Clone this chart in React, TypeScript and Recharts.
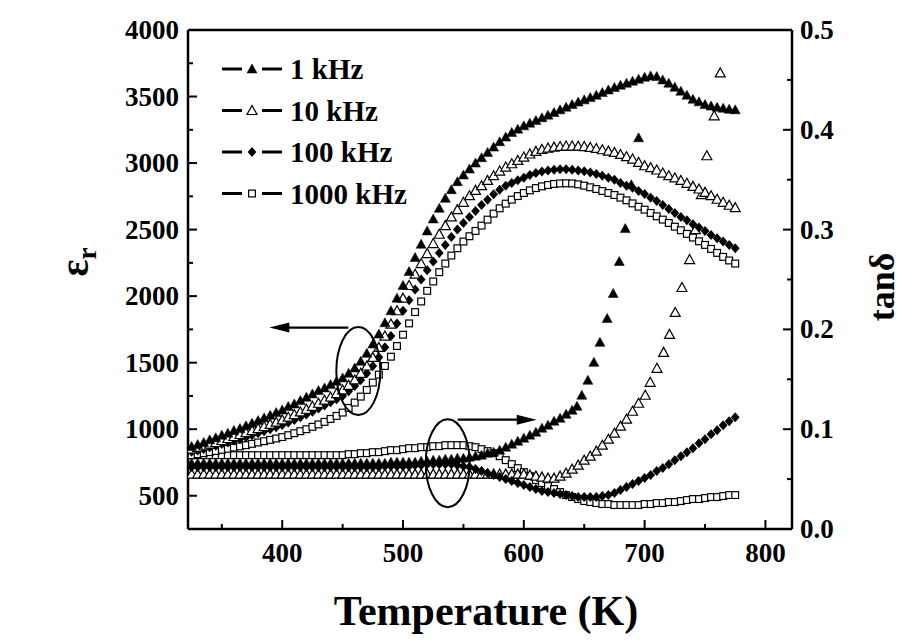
import React from "react";
import {
  ScatterChart,
  Scatter,
  XAxis,
  YAxis,
  ReferenceLine,
  ReferenceDot,
} from "recharts";

// temperature grid (K) for the densely sampled curves
const TEMPS = [
  325, 330, 335, 340, 345, 350, 355, 360, 365, 370,
  375, 380, 385, 390, 395, 400, 405, 410, 415, 420,
  425, 430, 435, 440, 445, 450, 455, 460, 465, 470,
  475, 480, 485, 490, 495, 500, 505, 510, 515, 520,
  525, 530, 535, 540, 545, 550, 555, 560, 565, 570,
  575, 580, 585, 590, 595, 600, 605, 610, 615, 620,
  625, 630, 635, 640, 645, 650, 655, 660, 665, 670,
  675, 680, 685, 690, 695, 700, 705, 710, 715, 720,
  725, 730, 735, 740, 745, 750, 755, 760, 765, 770,
  775,
];

// dielectric constant εr
const EPS_1K = [
  870, 885, 900, 920, 935, 955, 970, 990, 1005, 1025,
  1045, 1065, 1085, 1105, 1125, 1145, 1170, 1190, 1215, 1240,
  1265, 1290, 1310, 1335, 1360, 1385, 1420, 1460, 1510, 1570,
  1640, 1715, 1800, 1890, 1985, 2080, 2185, 2290, 2390, 2490,
  2580, 2660, 2735, 2800, 2860, 2910, 2955, 3000, 3040, 3080,
  3120, 3160, 3195, 3230, 3255, 3280, 3300, 3320, 3340, 3360,
  3380, 3400, 3420, 3440, 3458, 3475, 3492, 3510, 3530, 3550,
  3568, 3585, 3600, 3615, 3630, 3645, 3655, 3650, 3625, 3600,
  3570, 3540, 3510, 3480, 3460, 3440, 3428, 3420, 3412, 3405,
  3400,
];
const EPS_10K = [
  850, 862, 875, 888, 900, 915, 930, 945, 960, 975,
  990, 1005, 1020, 1037, 1053, 1070, 1090, 1110, 1130, 1150,
  1172, 1195, 1218, 1242, 1268, 1295, 1330, 1370, 1420, 1475,
  1540, 1615, 1700, 1790, 1890, 1985, 2080, 2165, 2245, 2320,
  2395, 2465, 2530, 2595, 2650, 2705, 2755, 2795, 2830, 2870,
  2905, 2940, 2970, 2995, 3020, 3045, 3068, 3088, 3103, 3113,
  3120, 3125, 3128, 3128, 3127, 3124, 3118, 3110, 3100, 3090,
  3080, 3065, 3048, 3030, 3005, 2980, 2965, 2948, 2925, 2905,
  2888, 2870, 2848, 2825, 2805, 2780, 2755, 2728, 2705, 2683,
  2665,
];
const EPS_100K = [
  830, 840, 852, 864, 876, 888, 900, 913, 926, 940,
  955, 970, 985, 1000, 1015, 1031, 1050, 1070, 1090, 1110,
  1132, 1155, 1178, 1202, 1225, 1250, 1285, 1325, 1370, 1420,
  1475, 1540, 1615, 1700, 1795, 1890, 1970, 2050, 2125, 2195,
  2260, 2325, 2385, 2445, 2500, 2550, 2595, 2640, 2685, 2725,
  2765, 2800, 2830, 2850, 2870, 2890, 2910, 2925, 2937, 2945,
  2950, 2953, 2953, 2950, 2945, 2938, 2930, 2918, 2905, 2890,
  2875, 2850, 2830, 2815, 2790, 2768, 2740, 2715, 2685, 2655,
  2625, 2595, 2570, 2540, 2515, 2490, 2460, 2435, 2410, 2385,
  2360,
];
const EPS_1000K = [
  805, 812, 820, 828, 836, 845, 853, 862, 871, 880,
  890, 900, 910, 920, 930, 941, 955, 970, 985, 1000,
  1018, 1036, 1055, 1077, 1100, 1125, 1160, 1200, 1245, 1295,
  1350, 1410, 1475, 1545, 1625, 1710, 1795, 1880, 1960, 2040,
  2110, 2180, 2245, 2305, 2360, 2410, 2450, 2490, 2530, 2575,
  2620, 2660, 2695, 2725, 2752, 2775, 2795, 2812, 2825, 2835,
  2843, 2847, 2848, 2847, 2840, 2830, 2818, 2805, 2790, 2775,
  2760, 2740, 2720, 2697, 2672, 2650, 2625, 2600, 2575, 2550,
  2522, 2495, 2468, 2440, 2412, 2385, 2355, 2325, 2295, 2268,
  2245,
];

// loss tangent tanδ
const TAN_100K = [
  0.062, 0.062, 0.062, 0.062, 0.062, 0.062, 0.062, 0.062, 0.062, 0.062,
  0.062, 0.062, 0.062, 0.062, 0.062, 0.062, 0.062, 0.062, 0.062, 0.062,
  0.062, 0.062, 0.062, 0.062, 0.062, 0.062, 0.062, 0.062, 0.062, 0.062,
  0.062, 0.062, 0.063, 0.063, 0.063, 0.063, 0.063, 0.064, 0.064, 0.065,
  0.065, 0.065, 0.065, 0.065, 0.064, 0.063, 0.062, 0.060, 0.058, 0.056,
  0.054, 0.052, 0.050, 0.048, 0.046, 0.044, 0.042, 0.040, 0.038, 0.037,
  0.036, 0.035, 0.034, 0.033, 0.032, 0.032, 0.032, 0.032, 0.033, 0.034,
  0.036, 0.039, 0.042, 0.045, 0.048, 0.051, 0.054, 0.058, 0.061, 0.065,
  0.069, 0.073, 0.077, 0.081, 0.086, 0.090, 0.095, 0.099, 0.104, 0.108,
  0.112,
];
const TAN_1000K = [
  0.074, 0.074, 0.074, 0.074, 0.074, 0.074, 0.074, 0.074, 0.074, 0.074,
  0.074, 0.074, 0.074, 0.074, 0.074, 0.074, 0.074, 0.074, 0.074, 0.074,
  0.074, 0.074, 0.074, 0.074, 0.074, 0.074, 0.075, 0.075, 0.076, 0.076,
  0.077, 0.077, 0.078, 0.079, 0.079, 0.080, 0.081, 0.081, 0.082, 0.082,
  0.083, 0.083, 0.084, 0.084, 0.084, 0.084, 0.083, 0.082, 0.080, 0.078,
  0.076, 0.073, 0.069, 0.065, 0.061, 0.057, 0.053, 0.049, 0.046, 0.043,
  0.040, 0.037, 0.034, 0.032, 0.030, 0.028, 0.027, 0.026, 0.025, 0.025,
  0.024, 0.024, 0.024, 0.024, 0.024, 0.025, 0.025, 0.026, 0.026, 0.027,
  0.027, 0.028, 0.029, 0.030, 0.030, 0.031, 0.032, 0.032, 0.033, 0.034,
  0.034,
];

// 1 kHz and 10 kHz loss run off the top, so they have their own temperatures
const TAN_1K_T = [
  325, 330, 335, 340, 345, 350, 355, 360, 365, 370,
  375, 380, 385, 390, 395, 400, 405, 410, 415, 420,
  425, 430, 435, 440, 445, 450, 455, 460, 465, 470,
  475, 480, 485, 490, 495, 500, 505, 510, 515, 520,
  525, 530, 535, 540, 545, 550, 555, 560, 565, 570,
  575, 580, 585, 590, 595, 600, 605, 610, 615, 620,
  625, 630, 635, 640, 644, 648, 653, 658, 663, 669,
  674, 679, 684, 689, 695,
];
const TAN_1K = [
  0.066, 0.066, 0.066, 0.066, 0.066, 0.066, 0.066, 0.066, 0.066, 0.066,
  0.066, 0.066, 0.066, 0.066, 0.066, 0.066, 0.066, 0.066, 0.066, 0.066,
  0.066, 0.066, 0.066, 0.066, 0.066, 0.066, 0.066, 0.066, 0.066, 0.066,
  0.066, 0.066, 0.066, 0.067, 0.067, 0.067, 0.067, 0.067, 0.068, 0.068,
  0.069, 0.069, 0.070, 0.070, 0.071, 0.071, 0.072, 0.073, 0.074, 0.076,
  0.077, 0.079, 0.082, 0.085, 0.088, 0.091, 0.094, 0.097, 0.101, 0.104,
  0.108, 0.111, 0.115, 0.119, 0.123, 0.134, 0.149, 0.167, 0.187, 0.211,
  0.236, 0.268, 0.301, 0.345, 0.392,
];
const TAN_10K_T = [
  325, 330, 335, 340, 345, 350, 355, 360, 365, 370,
  375, 380, 385, 390, 395, 400, 405, 410, 415, 420,
  425, 430, 435, 440, 445, 450, 455, 460, 465, 470,
  475, 480, 485, 490, 495, 500, 505, 510, 515, 520,
  525, 530, 535, 540, 545, 550, 555, 560, 565, 570,
  575, 580, 585, 590, 595, 600, 605, 610, 615, 620,
  625, 630, 635, 640, 645, 650, 655, 660, 665, 670,
  675, 680, 685, 690, 695, 700.5, 704.6, 710.2, 715.7, 720.6,
  725.3, 730.9, 737.2, 742, 747, 751.5, 757.6, 762.6,
];
const TAN_10K = [
  0.055, 0.055, 0.055, 0.055, 0.055, 0.055, 0.055, 0.055, 0.055, 0.055,
  0.055, 0.055, 0.055, 0.055, 0.055, 0.055, 0.055, 0.055, 0.055, 0.055,
  0.055, 0.055, 0.055, 0.055, 0.055, 0.055, 0.055, 0.055, 0.055, 0.055,
  0.055, 0.055, 0.055, 0.055, 0.055, 0.055, 0.055, 0.055, 0.055, 0.055,
  0.055, 0.055, 0.055, 0.055, 0.055, 0.055, 0.055, 0.055, 0.055, 0.055,
  0.055, 0.055, 0.055, 0.055, 0.055, 0.055, 0.054, 0.053, 0.052, 0.051,
  0.051, 0.053, 0.056, 0.060, 0.064, 0.069, 0.073, 0.078, 0.084, 0.090,
  0.096, 0.103, 0.110, 0.118, 0.126, 0.134, 0.147, 0.161, 0.177, 0.195,
  0.217, 0.242, 0.270, 0.300, 0.335, 0.374, 0.414, 0.457,
];

const X_TICKS = [350, 400, 450, 500, 550, 600, 650, 700, 750, 800];
const EPS_TICKS = [500, 750, 1000, 1250, 1500, 1750, 2000, 2250, 2500, 2750, 3000, 3250, 3500, 3750, 4000];
const TAN_TICKS = [0, 0.05, 0.1, 0.15, 0.2, 0.25, 0.3, 0.35, 0.4, 0.45, 0.5];
const TAN_LABELS: Record<string, string> = { "0": "0.0", "0.1": "0.1", "0.2": "0.2", "0.3": "0.3", "0.4": "0.4", "0.5": "0.5" };

const LEGEND = [
  { kind: "triFill", label: "1 kHz" },
  { kind: "triOpen", label: "10 kHz" },
  { kind: "diamond", label: "100 kHz" },
  { kind: "square", label: "1000 kHz" },
];

const FONT = '"Liberation Serif", "Times New Roman", serif';

const zip = (xs: number[], ys: number[]) => xs.map((x, i) => ({ x, y: ys[i] }));

function Marker({ kind, cx, cy }: { kind: string; cx: number; cy: number }) {
  if (cx == null || cy == null) return null;
  if (kind === "triFill" || kind === "triOpen") {
    const open = kind === "triOpen";
    return (
      <polygon
        points={`${cx},${cy - 5} ${cx - 5},${cy + 4} ${cx + 5},${cy + 4}`}
        fill={open ? "#fff" : "#000"}
        stroke="#000"
        strokeWidth={open ? 1.2 : 0.5}
      />
    );
  }
  if (kind === "diamond") {
    return (
      <polygon
        points={`${cx},${cy - 5} ${cx + 4.4},${cy} ${cx},${cy + 5} ${cx - 4.4},${cy}`}
        fill="#000"
      />
    );
  }
  return <rect x={cx - 3.4} y={cy - 3.4} width={6.8} height={6.8} fill="#fff" stroke="#000" strokeWidth={1.2} />;
}

const shapeOf = (kind: string) => (p: any) => <Marker kind={kind} cx={p.cx} cy={p.cy} />;

const labelStyle = { fontFamily: FONT, fontWeight: 700, fontSize: 27, fill: "#000" } as const;

const XTick = (p: any) => {
  const v = p.payload.value;
  const major = v % 100 === 0;
  return (
    <g>
      <line x1={p.x} x2={p.x} y1={p.y} y2={p.y - (major ? 9 : 5)} stroke="#000" strokeWidth={2} />
      {major && (
        <text x={p.x} y={p.y + 33} textAnchor="middle" {...labelStyle}>
          {v}
        </text>
      )}
    </g>
  );
};

const EpsTick = (p: any) => {
  const v = p.payload.value;
  const major = v % 500 === 0;
  return (
    <g>
      <line x1={p.x} x2={p.x + (major ? 9 : 5)} y1={p.y} y2={p.y} stroke="#000" strokeWidth={2} />
      {major && (
        <text x={p.x - 9} y={p.y + 9} textAnchor="end" {...labelStyle}>
          {v}
        </text>
      )}
    </g>
  );
};

const TanTick = (p: any) => {
  const v = p.payload.value;
  const lab = TAN_LABELS[String(v)];
  return (
    <g>
      <line x1={p.x} x2={p.x - (lab ? 9 : 5)} y1={p.y} y2={p.y} stroke="#000" strokeWidth={2} />
      {lab && (
        <text x={p.x + 8} y={p.y + 9} textAnchor="start" {...labelStyle}>
          {lab}
        </text>
      )}
    </g>
  );
};

// ellipse with an arrow pointing to the axis it belongs to
const Callout = (dir: number) => (p: any) => {
  const { cx, cy } = p;
  if (cx == null) return null;
  const tipX = cx + dir * 89;
  const startX = cx + dir * 10;
  const ay = cy - 43.5;
  return (
    <g>
      <ellipse cx={cx} cy={cy} rx={22} ry={44} fill="none" stroke="#000" strokeWidth={2} />
      <line x1={startX} x2={tipX - dir * 16} y1={ay} y2={ay} stroke="#000" strokeWidth={2.2} />
      <polygon points={`${tipX},${ay} ${tipX - dir * 20},${ay - 5} ${tipX - dir * 20},${ay + 5}`} fill="#000" />
    </g>
  );
};

export default function App() {
  const series = [
    { key: "t1000", data: zip(TEMPS, TAN_1000K), axis: "tan", kind: "square" },
    { key: "t10", data: zip(TAN_10K_T, TAN_10K), axis: "tan", kind: "triOpen" },
    { key: "t100", data: zip(TEMPS, TAN_100K), axis: "tan", kind: "diamond" },
    { key: "t1", data: zip(TAN_1K_T, TAN_1K), axis: "tan", kind: "triFill" },
    { key: "e1000", data: zip(TEMPS, EPS_1000K), axis: "eps", kind: "square" },
    { key: "e100", data: zip(TEMPS, EPS_100K), axis: "eps", kind: "diamond" },
    { key: "e10", data: zip(TEMPS, EPS_10K), axis: "eps", kind: "triOpen" },
    { key: "e1", data: zip(TEMPS, EPS_1K), axis: "eps", kind: "triFill" },
  ];

  return (
    <div style={{ position: "absolute", left: 0, top: 0, width: 912, height: 642, background: "#fff" }}>
      <ScatterChart width={912} height={642} margin={{ top: 30, right: 0, bottom: 0, left: 0 }}>
        <XAxis
          type="number"
          dataKey="x"
          domain={[322, 822]}
          ticks={X_TICKS}
          interval={0}
          tick={XTick}
          tickSize={0}
          tickMargin={0}
          tickLine={false}
          axisLine={{ stroke: "#000", strokeWidth: 2.5 }}
          height={113}
          allowDataOverflow
        />
        <YAxis
          yAxisId="eps"
          type="number"
          dataKey="y"
          domain={[250, 4000]}
          ticks={EPS_TICKS}
          interval={0}
          tick={EpsTick}
          tickSize={0}
          tickMargin={0}
          tickLine={false}
          axisLine={{ stroke: "#000", strokeWidth: 2.5 }}
          width={188}
          allowDataOverflow
        />
        <YAxis
          yAxisId="tan"
          orientation="right"
          type="number"
          dataKey="y"
          domain={[0, 0.5]}
          ticks={TAN_TICKS}
          interval={0}
          tick={TanTick}
          tickSize={0}
          tickMargin={0}
          tickLine={false}
          axisLine={{ stroke: "#000", strokeWidth: 2.5 }}
          width={120}
          allowDataOverflow
        />
        <ReferenceLine yAxisId="eps" y={4000} stroke="#000" strokeWidth={2.5} />
        {series.map((s) => (
          <Scatter
            key={s.key}
            data={s.data}
            yAxisId={s.axis}
            shape={shapeOf(s.kind)}
            isAnimationActive={false}
          />
        ))}
        <ReferenceDot yAxisId="eps" x={463} y={1437} r={0} shape={Callout(-1)} />
        <ReferenceDot yAxisId="tan" x={537} y={0.066} r={0} shape={Callout(1)} />
      </ScatterChart>

      <svg
        width={912}
        height={642}
        style={{ position: "absolute", left: 0, top: 0, pointerEvents: "none" }}
      >
        {LEGEND.map((l, i) => {
          const cy = 69 + i * 41.5;
          return (
            <g key={l.label}>
              <line x1={222} x2={242} y1={cy} y2={cy} stroke="#000" strokeWidth={3} />
              <line x1={262} x2={282} y1={cy} y2={cy} stroke="#000" strokeWidth={3} />
              <Marker kind={l.kind} cx={252} cy={cy} />
              <text x={290} y={cy + 10} fontFamily={FONT} fontWeight={700} fontSize={29} fill="#000">
                {l.label}
              </text>
            </g>
          );
        })}
        <text
          transform="translate(88, 262) rotate(-90)"
          textAnchor="middle"
          fontFamily={FONT}
          fontWeight={700}
          fontSize={40}
          fill="#000"
        >
          ε<tspan dy={8} fontSize={27}>r</tspan>
        </text>
        <text
          transform="translate(894, 287) rotate(-90)"
          textAnchor="middle"
          fontFamily={FONT}
          fontWeight={700}
          fontSize={36}
          fill="#000"
        >
          tanδ
        </text>
        <text
          x={486}
          y={625}
          textAnchor="middle"
          fontFamily={FONT}
          fontWeight={700}
          fontSize={42}
          fill="#000"
        >
          Temperature (K)
        </text>
      </svg>
    </div>
  );
}
